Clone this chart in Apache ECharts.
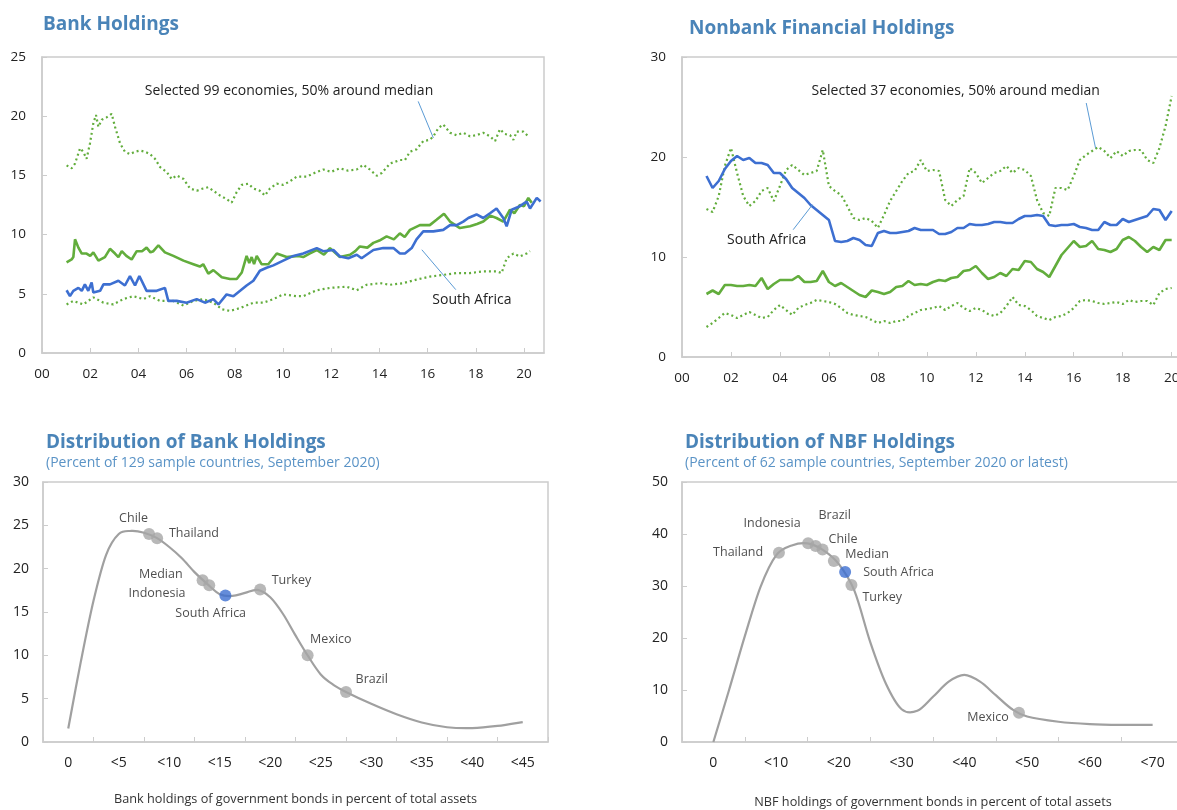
<!DOCTYPE html>
<html><head><meta charset="utf-8">
<script src="https://cdn.jsdelivr.net/npm/echarts@6/dist/echarts.min.js"></script>
<style>html,body{margin:0;padding:0;background:#fff}#c{width:1177px;height:810px}</style>
</head><body><div id="c"></div>
<script>
// ---------- Panel 1: Bank holdings (percent), [year, value] ----------
const bankUpper = [[2001.02,15.85],[2001.23,15.6],[2001.37,16.0],[2001.58,17.3],[2001.71,17.0],[2001.85,16.4],[2001.99,17.7],[2002.13,19.4],[2002.24,20.1],[2002.34,19.1],[2002.48,19.7],[2002.68,19.9],[2002.89,20.2],[2003.03,19.1],[2003.24,17.7],[2003.44,17.0],[2003.65,16.8],[2003.86,17.0],[2004.07,17.1],[2004.27,17.0],[2004.48,16.8],[2004.69,16.4],[2004.90,15.7],[2005.17,15.3],[2005.38,14.7],[2005.59,15.0],[2005.87,14.7],[2006.14,13.9],[2006.42,13.7],[2006.69,13.9],[2006.90,14.0],[2007.11,13.7],[2007.39,13.3],[2007.66,13.0],[2007.87,12.7],[2008.08,13.6],[2008.29,14.2],[2008.56,14.3],[2008.77,13.9],[2009.04,13.7],[2009.25,13.3],[2009.46,13.9],[2009.74,14.3],[2010.01,14.2],[2010.29,14.5],[2010.57,14.9],[2010.98,14.9],[2011.3,15.2],[2011.67,15.5],[2012.0,15.3],[2012.36,15.6],[2012.7,15.4],[2013.06,15.5],[2013.33,15.9],[2013.6,15.5],[2013.89,14.97],[2014.1,15.2],[2014.44,16.0],[2014.85,16.3],[2015.06,16.3],[2015.27,17.0],[2015.54,17.2],[2015.82,17.9],[2016.09,18.0],[2016.24,18.3],[2016.45,19.0],[2016.65,19.3],[2016.93,18.6],[2017.2,18.4],[2017.48,18.6],[2017.76,18.3],[2018.03,18.4],[2018.31,18.6],[2018.59,18.3],[2018.80,17.9],[2019.00,18.9],[2019.2,18.5],[2019.42,18.4],[2019.56,18.0],[2019.70,18.7],[2019.97,18.7],[2020.18,18.3]];
const bankMedian = [[2001.02,7.65],[2001.23,7.9],[2001.30,8.1],[2001.37,9.6],[2001.51,8.9],[2001.65,8.4],[2001.85,8.4],[2002.0,8.2],[2002.13,8.5],[2002.34,7.8],[2002.61,8.1],[2002.82,8.8],[2003.03,8.4],[2003.17,8.1],[2003.31,8.6],[2003.5,8.2],[2003.72,7.9],[2003.93,8.6],[2004.15,8.6],[2004.34,8.9],[2004.5,8.5],[2004.62,8.6],[2004.83,9.1],[2005.10,8.5],[2005.45,8.2],[2005.87,7.8],[2006.28,7.5],[2006.55,7.3],[2006.69,7.5],[2006.90,6.7],[2007.11,7.0],[2007.46,6.4],[2007.80,6.25],[2008.08,6.25],[2008.29,6.8],[2008.49,8.2],[2008.6,7.6],[2008.70,8.1],[2008.8,7.5],[2008.91,8.2],[2009.11,7.5],[2009.39,7.5],[2009.74,8.4],[2010.15,8.1],[2010.64,8.2],[2010.84,8.1],[2011.1,8.4],[2011.40,8.7],[2011.7,8.3],[2011.95,8.86],[2012.36,8.1],[2012.78,8.3],[2013.0,8.6],[2013.19,9.0],[2013.5,8.9],[2013.75,9.3],[2014.0,9.5],[2014.30,9.85],[2014.6,9.6],[2014.85,10.1],[2015.05,9.8],[2015.27,10.4],[2015.68,10.8],[2016.09,10.8],[2016.37,11.25],[2016.68,11.76],[2016.93,11.1],[2017.34,10.55],[2017.76,10.7],[2018.05,10.9],[2018.31,11.1],[2018.6,11.6],[2018.86,11.4],[2019.14,11.1],[2019.42,12.1],[2019.6,11.8],[2019.83,12.5],[2020.0,12.4],[2020.18,13.1],[2020.32,12.7]];
const bankSouthAfrica = [[2001.02,5.3],[2001.16,4.8],[2001.30,5.25],[2001.51,5.5],[2001.65,5.25],[2001.78,5.8],[2001.92,5.25],[2002.06,5.95],[2002.13,5.1],[2002.41,5.25],[2002.55,5.8],[2002.82,5.8],[2003.17,6.1],[2003.44,5.7],[2003.65,6.5],[2003.86,5.7],[2004.04,6.5],[2004.34,5.25],[2004.76,5.25],[2005.10,5.5],[2005.24,4.4],[2005.59,4.4],[2006.00,4.25],[2006.42,4.55],[2006.76,4.25],[2007.11,4.55],[2007.32,4.1],[2007.66,4.95],[2007.94,4.8],[2008.22,5.25],[2008.49,5.7],[2008.77,6.1],[2009.04,6.95],[2009.32,7.2],[2009.60,7.4],[2010.01,7.8],[2010.43,8.2],[2010.84,8.4],[2011.40,8.86],[2011.67,8.6],[2012.09,8.7],[2012.36,8.15],[2012.71,8.0],[2013.06,8.3],[2013.26,8.0],[2013.75,8.7],[2014.16,8.86],[2014.58,8.86],[2014.85,8.4],[2015.06,8.4],[2015.34,8.86],[2015.54,9.6],[2015.82,10.27],[2016.24,10.27],[2016.65,10.4],[2016.93,10.8],[2017.21,10.8],[2017.48,11.1],[2017.69,11.4],[2018.03,11.7],[2018.31,11.4],[2018.59,11.8],[2018.86,12.2],[2019.14,11.4],[2019.28,10.7],[2019.49,12.1],[2019.83,12.4],[2020.11,12.8],[2020.25,12.2],[2020.53,13.1],[2020.69,12.8]];
const bankLower = [[2001.02,4.1],[2001.30,4.4],[2001.71,4.1],[2002.13,4.7],[2002.55,4.25],[2002.96,4.1],[2003.37,4.55],[2003.79,4.8],[2004.21,4.55],[2004.48,4.8],[2004.90,4.4],[2005.45,4.4],[2005.87,4.0],[2006.28,4.4],[2006.69,4.55],[2007.11,4.25],[2007.46,3.7],[2007.80,3.55],[2008.22,3.8],[2008.77,4.25],[2009.18,4.25],[2009.60,4.55],[2010.01,4.95],[2010.57,4.8],[2010.84,4.8],[2011.40,5.3],[2011.95,5.5],[2012.64,5.6],[2013.06,5.3],[2013.47,5.76],[2014.03,5.9],[2014.44,5.76],[2014.99,5.9],[2015.54,6.2],[2016.09,6.45],[2016.65,6.6],[2017.21,6.75],[2017.76,6.75],[2018.31,6.9],[2018.86,6.9],[2019.07,6.75],[2019.28,8.0],[2019.56,8.4],[2019.83,8.15],[2020.11,8.4],[2020.25,8.6]];

// ---------- Panel 2: Nonbank financial holdings, quarterly 2001Q1..2020Q1 ----------
const nbfStartYear = 2001;
const nbfUpper = [14.8,14.5,16.1,19.1, 20.9,18.4,16.1,15.1, 15.6,16.6,16.9,15.6, 17.1,18.7,19.2,18.7, 18.2,18.4,18.6,20.7, 17.1,16.6,16.2,15.1, 13.9,13.7,13.9,13.6, 12.9,14.2,15.6,16.6, 17.6,18.4,18.6,19.7, 18.6,18.7,18.6,15.7, 15.1,15.7,16.1,18.9, 18.4,17.4,17.9,18.4, 18.6,19.1,18.4,18.9, 18.7,18.1,15.7,14.4, 14.1,16.9,16.9,16.7, 18.1,19.7,20.2,20.6, 21.0,20.6,19.9,20.6, 20.1,20.6,20.7,20.7, 19.7,19.4,20.9,23.1, 26.1];
const nbfMedian = [6.3,6.65,6.3,7.2, 7.2,7.1,7.1,7.2, 7.1,7.9,6.8,7.3, 7.7,7.7,7.7,8.1, 7.5,7.5,7.6,8.6, 7.5,7.1,7.4,7.0, 6.6,6.2,6.0,6.65, 6.5,6.3,6.5,7.0, 7.1,7.6,7.2,7.3, 7.2,7.5,7.7,7.6, 7.9,8.0,8.6,8.7, 9.1,8.4,7.8,8.0, 8.4,8.1,8.8,8.7, 9.6,9.5,8.8,8.5, 8.0,9.1,10.2,10.9, 11.6,11.0,11.1,11.6, 10.8,10.7,10.5,10.8, 11.7,12.0,11.6,11.0, 10.5,11.0,10.7,11.7, 11.7];
const nbfLower = [3.0,3.4,3.9,4.4, 4.2,3.9,4.2,4.5, 4.2,3.9,4.0,4.7, 5.2,4.7,4.2,4.9, 5.2,5.4,5.7,5.6, 5.5,5.3,4.9,4.4, 4.2,4.1,4.0,3.7, 3.4,3.6,3.4,3.6, 3.6,4.1,4.4,4.7, 4.8,4.9,5.1,4.7, 5.1,5.4,4.9,4.6, 4.9,4.7,4.3,4.1, 4.4,5.1,6.0,5.2, 5.1,4.7,4.1,3.9, 3.7,4.0,4.1,4.4, 4.9,5.6,5.7,5.6, 5.4,5.3,5.4,5.5, 5.3,5.7,5.5,5.6, 5.6,5.2,6.4,6.8, 6.9];
const nbfSouthAfrica = [18.1,16.9,17.6,18.8, 19.6,20.1,19.7,19.9, 19.4,19.4,19.2,18.4, 18.4,17.8,16.9,16.4, 15.9,15.2,14.7,14.2, 13.7,11.6,11.5,11.6, 11.9,11.7,11.2,11.1, 12.4,12.6,12.4,12.4, 12.5,12.6,12.9,12.7, 12.7,12.7,12.3,12.3, 12.5,12.9,12.9,13.3, 13.2,13.2,13.3,13.5, 13.5,13.4,13.4,13.8, 14.1,14.1,14.2,14.1, 13.2,13.1,13.2,13.2, 13.3,13.0,12.9,12.7, 12.7,13.5,13.2,13.2, 13.8,13.5,13.7,13.9, 14.1,14.8,14.7,13.7, 14.6];

// ---------- Panel 3: distribution of bank holdings ----------
const bankDistCats = ['0','<5','<10','<15','<20','<25','<30','<35','<40','<45'];
const bankDistX = [0,1.25,2.5,3.75,5,6.25,7.5,8.75,10,11.25,12.5,13.75,15,16.25,17.5,18.75,20,21.25,22.5,23.75,25,26.25,27.5,30,32.5,35,37.5,40,42.5,45];
const bankDistY = [1.55,9.3,16.3,21.6,24.0,24.35,24.15,23.55,22.5,21.2,19.6,18.25,17.05,16.85,17.2,17.55,16.7,14.8,12.3,9.9,7.8,6.6,5.77,4.4,3.2,2.25,1.7,1.6,1.85,2.3];
const bankPtNames = ['Chile','Thailand','Median','Indonesia','South Africa','Turkey','Mexico','Brazil'];
const bankPtX = [8.0,8.8,13.3,13.96,15.56,19.0,23.7,27.5];
const bankPtY = [24.0,23.5,18.65,18.08,16.9,17.6,10.0,5.77];

// ---------- Panel 4: distribution of NBF holdings ----------
const nbfDistCats = ['0','<10','<20','<30','<40','<50','<60','<70'];
const nbfDistX = [0,2.5,5,7.5,10,12.5,15,17.5,20,22.5,25,27.5,30,32.5,35,37.5,40,42.5,45,47.5,50,55,60,65,70];
const nbfDistY = [0,10.0,20.3,29.8,35.9,37.8,38.2,36.9,34.2,29.0,19.2,11.2,6.3,6.0,8.7,11.6,12.9,11.6,9.0,6.4,4.9,3.9,3.45,3.3,3.3];
const nbfPtNames = ['Thailand','Indonesia','Brazil','Chile','Median','South Africa','Turkey','Mexico'];
const nbfPtX = [10.45,15.1,16.3,17.4,19.2,21.0,22.0,48.7];
const nbfPtY = [36.4,38.2,37.7,37.0,34.8,32.7,30.2,5.63];

// ---------- styling / layout (not data) ----------
const FONT = "'Open Sans', sans-serif";
const GREEN = '#62ad3c', BLUE = '#3d6fd1', GRAYPT = '#a6a6a6', AXIS = '#cccccc', TXT = '#222';
const TITLE = '#4a84b8', SUB = '#5a93c6', LEADER = '#5b9bd5', CURVE = '#a0a0a0';
const bankLabelLayout = {
  'Chile':[-15.5,-15.5,'center'],'Thailand':[11.8,-5,'left'],'Median':[-20,-6,'right'],
  'Indonesia':[-23.7,7.7,'right'],'South Africa':[-14.7,18.3,'center'],'Turkey':[11.5,-9,'left'],
  'Mexico':[2.5,-16,'left'],'Brazil':[9.6,-12.4,'left']};
const nbfLabelLayout = {
  'Thailand':[-15.8,-0.6,'right'],'Indonesia':[-36,-19.6,'center'],'Brazil':[19,-30.7,'center'],
  'Chile':[6,-10,'left'],'Median':[11.4,-6.4,'left'],'South Africa':[18,0,'left'],
  'Turkey':[11,12.7,'left'],'Mexico':[-10.3,5,'right']};
const SYM = 12;

const quarterly = (vals) => vals.map((v, i) => [nbfStartYear + i / 4, v]);
const pairs = (xs, ys) => xs.map((x, i) => [x, ys[i]]);
const pts = (names, xs, ys, layout) => names.map((n, i) => {
  const l = layout[n];
  return {
    name: n, value: [xs[i], ys[i]],
    itemStyle: { color: n === 'South Africa' ? BLUE : GRAYPT },
    label: { show: true, formatter: n, position: [SYM / 2 + l[0], SYM / 2 + l[1]], align: l[2], verticalAlign: 'middle',
      fontFamily: FONT, fontSize: 12.5, color: TXT }
  };
});

// smooth curve through the data points (Catmull-Rom), positioned by the axes via api.coord
const curveSeries = (xi, yi, xs, ys) => {
  const data = pairs(xs, ys);
  return {
    type: 'custom', xAxisIndex: xi, yAxisIndex: yi, data: data, z: 2, silent: true,
    renderItem: (params, api) => {
      if (params.dataIndex !== 0) return null;
      const P = data.map(d => api.coord(d));
      let d = 'M' + P[0][0] + ' ' + P[0][1];
      for (let i = 0; i < P.length - 1; i++) {
        const p0 = P[i - 1] || P[i], p1 = P[i], p2 = P[i + 1], p3 = P[i + 2] || P[i + 1];
        const c1x = p1[0] + (p2[0] - p0[0]) / 6, c1y = p1[1] + (p2[1] - p0[1]) / 6;
        const c2x = p2[0] - (p3[0] - p1[0]) / 6, c2y = p2[1] - (p3[1] - p1[1]) / 6;
        d += ' C' + c1x + ' ' + c1y + ' ' + c2x + ' ' + c2y + ' ' + p2[0] + ' ' + p2[1];
      }
      return { type: 'path', shape: { pathData: d }, style: { stroke: CURVE, lineWidth: 2.2, fill: 'none' } };
    }
  };
};

const yearFmt = (v) => {
  const r = Math.round(v);
  if (Math.abs(v - r) > 1e-6 || r % 2 !== 0) return '';
  return String(r % 100).padStart(2, '0');
};

const commonAxisLine = { show: true, onZero: false, lineStyle: { color: AXIS, width: 1.5 } };
const commonTick = { show: true, inside: true, length: 5, lineStyle: { color: AXIS, width: 1 } };
const lbl = (m, fs) => ({ margin: m, fontFamily: FONT, fontSize: fs || 13.5, color: TXT });

const grids = [
  { left: 42, top: 57, width: 502, height: 296 },
  { left: 682, top: 57, width: 510, height: 300 },
  { left: 43, top: 482, width: 505, height: 260 },
  { left: 682, top: 482, width: 502, height: 260 }
].map(g => Object.assign(g, { show: true, borderColor: AXIS, borderWidth: 1.5, containLabel: false, outerBoundsMode: 'none' }));

const timeX = (gi) => ({
  type: 'value', gridIndex: gi, min: 2000, max: 2020.83, interval: 2,
  axisLine: commonAxisLine, axisTick: commonTick, splitLine: { show: false },
  axisLabel: Object.assign(lbl(14), { formatter: yearFmt, showMaxLabel: false })
});
const valY = (gi, max, interval, m, fs) => ({
  type: 'value', gridIndex: gi, min: 0, max: max, interval: interval,
  axisLine: commonAxisLine, axisTick: commonTick, splitLine: { show: false },
  axisLabel: lbl(m, fs)
});
const catX = (gi, cats, name, gap) => ({
  type: 'category', gridIndex: gi, data: cats, boundaryGap: true,
  axisLine: commonAxisLine, axisTick: Object.assign({}, commonTick, { alignWithLabel: false }),
  splitLine: { show: false }, axisLabel: lbl(14, 14),
  name: name, nameLocation: 'middle', nameGap: gap,
  nameTextStyle: { fontFamily: FONT, fontSize: 12.7, color: '#333' }
});
const hiddenX = (gi, min, max) => ({ type: 'value', gridIndex: gi, min: min, max: max, show: false });

const lineS = (xi, yi, data, color, dotted, z) => ({
  type: 'line', xAxisIndex: xi, yAxisIndex: yi, data: data, showSymbol: false, symbol: 'none',
  silent: true, z: z || 2, animation: false,
  lineStyle: dotted ? { color: color, width: 2.2, type: [2, 3] } : { color: color, width: 2.6 }
});

const annotText = (coord, text) => ({
  coord: coord, symbol: 'circle', symbolSize: 0, value: text,
  label: { show: true, position: 'inside', formatter: text, fontFamily: FONT, fontSize: 14, color: TXT }
});
const leader = (a, b) => [{ coord: a }, { coord: b }];

const p1Upper = lineS(0, 0, bankUpper, GREEN, true);
p1Upper.markLine = { silent: true, symbol: ['none', 'none'], animation: false, label: { show: false },
  lineStyle: { color: LEADER, width: 1, type: 'solid' },
  data: [leader([2015.61, 21.25], [2016.24, 18.16]), leader([2015.76, 8.72], [2017.17, 5.35])] };
p1Upper.markPoint = { silent: true, animation: false,
  data: [annotText([2010.25, 22.15], 'Selected 99 economies, 50% around median'), annotText([2017.84, 4.5], 'South Africa')] };

const p2Upper = lineS(1, 1, quarterly(nbfUpper), GREEN, true);
p2Upper.markLine = { silent: true, symbol: ['none', 'none'], animation: false, label: { show: false },
  lineStyle: { color: LEADER, width: 1, type: 'solid' },
  data: [leader([2016.51, 25.4], [2016.89, 20.9]), leader([2004.54, 12.73], [2005.33, 15.23])] };
p2Upper.markPoint = { silent: true, animation: false,
  data: [annotText([2011.18, 26.63], 'Selected 37 economies, 50% around median'), annotText([2003.46, 11.73], 'South Africa')] };

const titleFont = (s, bold) => (bold ? 'bold ' : '') + s + "px 'Open Sans', sans-serif";

const option = {
  animation: false,
  backgroundColor: '#fff',
  textStyle: { fontFamily: FONT },
  grid: grids,
  xAxis: [timeX(0), timeX(1),
    catX(2, bankDistCats, 'Bank holdings of government bonds in percent of total assets', 51), hiddenX(2, -2.5, 47.5),
    catX(3, nbfDistCats, 'NBF holdings of government bonds in percent of total assets', 54), hiddenX(3, -5, 75)],
  yAxis: [valY(0, 25, 5, 16), valY(1, 30, 10, 16), valY(2, 30, 5, 14, 14), valY(3, 50, 10, 14, 14)],
  series: [
    p1Upper,
    lineS(0, 0, bankLower, GREEN, true),
    lineS(0, 0, bankMedian, GREEN, false, 3),
    lineS(0, 0, bankSouthAfrica, BLUE, false, 4),
    p2Upper,
    lineS(1, 1, quarterly(nbfLower), GREEN, true),
    lineS(1, 1, quarterly(nbfMedian), GREEN, false, 3),
    lineS(1, 1, quarterly(nbfSouthAfrica), BLUE, false, 4),
    curveSeries(3, 2, bankDistX, bankDistY),
    { type: 'scatter', xAxisIndex: 3, yAxisIndex: 2, symbolSize: SYM, z: 5,
      data: pts(bankPtNames, bankPtX, bankPtY, bankLabelLayout) },
    curveSeries(5, 3, nbfDistX, nbfDistY),
    { type: 'scatter', xAxisIndex: 5, yAxisIndex: 3, symbolSize: SYM, z: 5,
      data: pts(nbfPtNames, nbfPtX, nbfPtY, nbfLabelLayout) }
  ],
  graphic: [
    { type: 'text', left: 43, top: 15, style: { text: 'Bank Holdings', font: titleFont(19, true), fill: TITLE } },
    { type: 'text', left: 689, top: 19, style: { text: 'Nonbank Financial Holdings', font: titleFont(19, true), fill: TITLE } },
    { type: 'text', left: 46, top: 433, style: { text: 'Distribution of Bank Holdings', font: titleFont(19, true), fill: TITLE } },
    { type: 'text', left: 46, top: 456, style: { text: '(Percent of 129 sample countries, September 2020)', font: titleFont(14, false), fill: SUB } },
    { type: 'text', left: 685, top: 433, style: { text: 'Distribution of NBF Holdings', font: titleFont(19, true), fill: TITLE } },
    { type: 'text', left: 685, top: 456, style: { text: '(Percent of 62 sample countries, September 2020 or latest)', font: titleFont(14, false), fill: SUB } }
  ]
};

const chart = echarts.init(document.getElementById('c'), null, { renderer: 'canvas' });
chart.setOption(option);
</script>
</body></html>
